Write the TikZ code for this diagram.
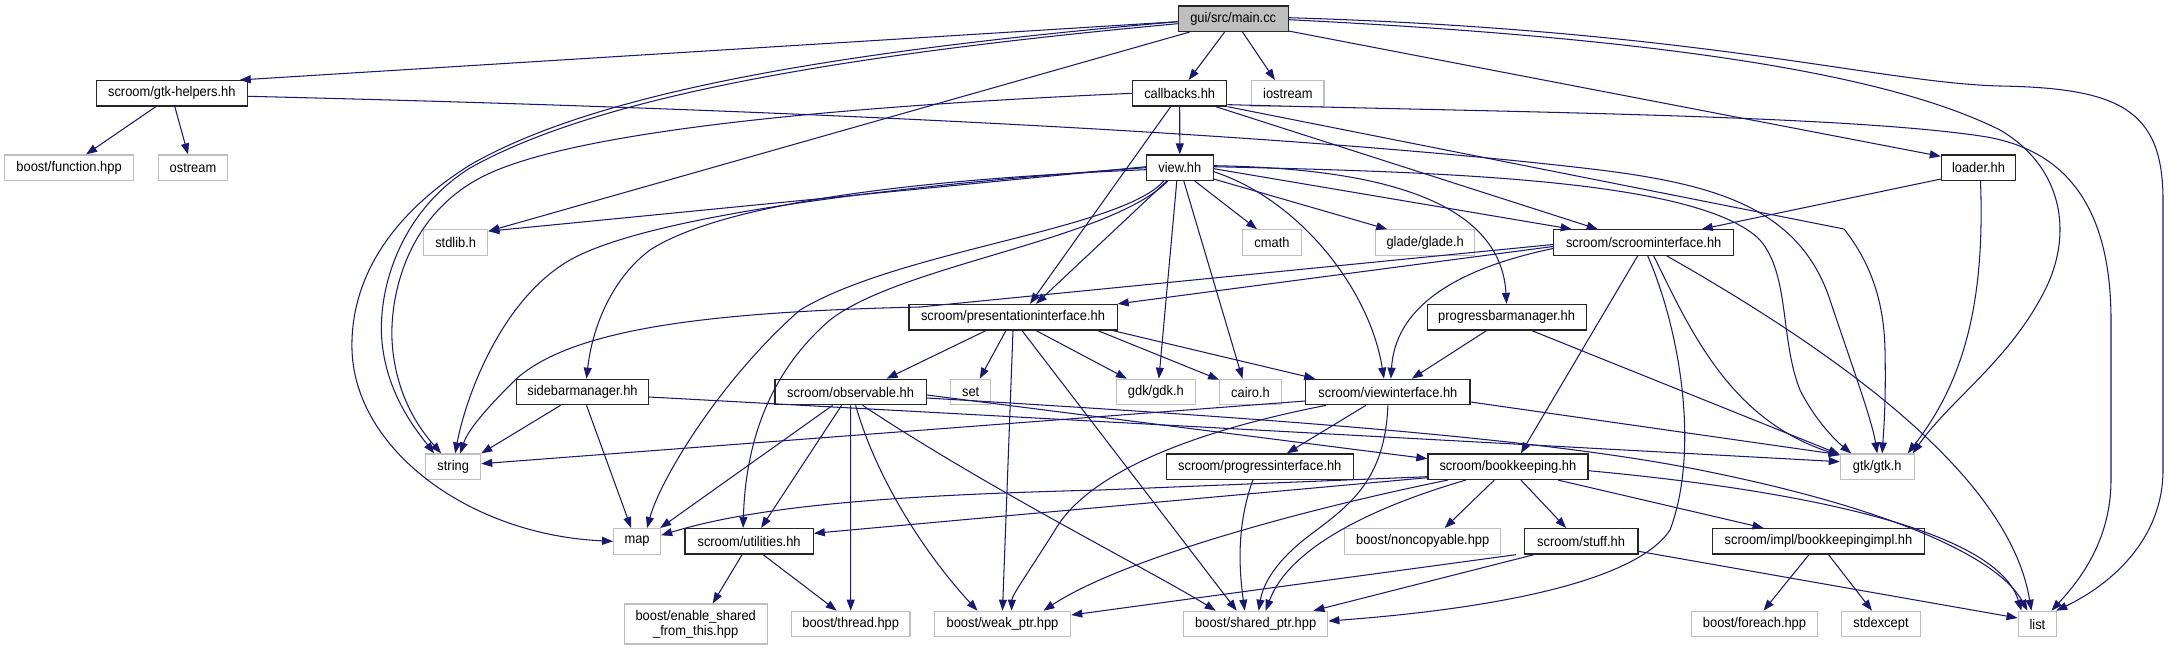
\documentclass[tikz,border=0pt]{standalone}
\usepackage{fontspec}
\setmainfont{Liberation Sans}[FakeStretch=0.92]
\usetikzlibrary{arrows.meta}
\definecolor{edgeblue}{HTML}{191970}
\definecolor{lgray}{HTML}{BFBFBF}
\tikzset{
  nbox/.style={draw, minimum height=25.5pt, inner sep=0pt, font=\fontsize{14}{16}\selectfont, line width=1.2pt},
  intbox/.style={nbox, draw=black!85},
  extbox/.style={nbox, draw=lgray, line width=1.1pt},
  mainbox/.style={nbox, draw=black!85, fill=lgray},
  dep/.style={draw=edgeblue, line width=1.05pt, -{Triangle[length=11pt,width=8pt]}},
}
\begin{document}
\begin{tikzpicture}[x=1pt,y=-1pt]
\useasboundingbox (0,0) rectangle (2169,651);
% ---------- nodes ----------
\node[mainbox, minimum width=110pt]  (main)       at (1233.2,18.7) {gui/src/main.cc};
\node[intbox, minimum width=150.7pt] (gtkhelpers) at (171.8,93.3)  {scroom/gtk-helpers.hh};
\node[intbox, minimum width=94.3pt]  (callbacks)  at (1179.7,93.3) {callbacks.hh};
\node[extbox, minimum width=72.1pt]  (iostream)   at (1287.9,93.3) {iostream};
\node[extbox, minimum width=129.6pt] (bfunction)  at (69.1,167.7)  {boost/function.hpp};
\node[extbox, minimum width=69.7pt]  (ostream)    at (193,167.7)   {ostream};
\node[intbox, minimum width=66.8pt]  (view)       at (1179.8,167.7) {view.hh};
\node[intbox, minimum width=74.3pt]  (loader)     at (1978.5,167.7) {loader.hh};
\node[extbox, minimum width=64.3pt]  (stdlib)     at (455.7,242.5) {stdlib.h};
\node[extbox, minimum width=58.9pt]  (cmath)      at (1272,242.5)  {cmath};
\node[extbox, minimum width=98.9pt]  (glade)      at (1425.2,242.5) {glade/glade.h};
\node[intbox, minimum width=180.2pt] (scroomif)   at (1643.7,242.5) {scroom/scroominterface.hh};
\node[intbox, minimum width=208.2pt] (presif)     at (1013,317.2)  {scroom/presentationinterface.hh};
\node[intbox, minimum width=159pt]   (progbar)    at (1506.6,317.2) {progressbarmanager.hh};
\node[intbox, minimum width=132.2pt] (sidebar)    at (582.5,392)   {sidebarmanager.hh};
\node[intbox, minimum width=151.1pt] (observable) at (850.6,392)   {scroom/observable.hh};
\node[extbox, minimum width=40pt]    (set)        at (970.7,392)   {set};
\node[extbox, minimum width=79pt]    (gdk)        at (1155.9,392)  {gdk/gdk.h};
\node[extbox, minimum width=61.8pt]  (cairo)      at (1250.5,392)  {cairo.h};
\node[intbox, minimum width=164.3pt] (viewif)     at (1387.9,392)  {scroom/viewinterface.hh};
\node[extbox, minimum width=55pt]    (string)     at (453.2,466.7) {string};
\node[intbox, minimum width=186.8pt] (progif)     at (1259.8,466.7) {scroom/progressinterface.hh};
\node[intbox, minimum width=160pt]   (bookkeeping) at (1507.9,466.7) {scroom/bookkeeping.hh};
\node[extbox, minimum width=73.9pt]  (gtk)        at (1877.2,466.7) {gtk/gtk.h};
\node[extbox, minimum width=47.1pt]  (map)        at (637.1,541.3) {map};
\node[intbox, minimum width=128.2pt] (utilities)  at (749.1,541.3) {scroom/utilities.hh};
\node[extbox, minimum width=156.1pt] (noncopyable) at (1422.7,541.3) {boost/noncopyable.hpp};
\node[intbox, minimum width=113.6pt] (stuff)      at (1581.1,541.3) {scroom/stuff.hh};
\node[intbox, minimum width=212.2pt] (bkimpl)     at (1818.5,541.3) {scroom/impl/bookkeepingimpl.hh};
\node[extbox, minimum width=142.8pt, minimum height=40pt, align=center, font=\fontsize{14}{15}\selectfont] (enable) at (695.7,624) {boost/enable\_shared\\\_from\_this.hpp};
\node[extbox, minimum width=118.6pt] (thread)     at (850.7,624)   {boost/thread.hpp};
\node[extbox, minimum width=136.4pt] (weak)       at (1002.5,624)  {boost/weak\_ptr.hpp};
\node[extbox, minimum width=144.3pt] (shared)     at (1255.7,624)  {boost/shared\_ptr.hpp};
\node[extbox, minimum width=126.7pt] (foreach)    at (1754.5,624)  {boost/foreach.hpp};
\node[extbox, minimum width=78.8pt]  (stdexcept)  at (1881,624)    {stdexcept};
\node[extbox, minimum width=38.5pt]  (list)       at (2037.4,624)  {list};
% ---------- edges: main ----------
\draw[dep] ([yshift=-3pt]main.west) -- ([xshift=-8pt]gtkhelpers.north east);
\draw[dep] ([xshift=-8.6pt]main.south) -- ([xshift=9pt]callbacks.north);
\draw[dep] ([xshift=9.3pt]main.south) -- ([xshift=-13pt]iostream.north);
\draw[dep] ([yshift=1pt]main.south east) -- ([yshift=-2pt]loader.north west);
\draw[dep] ([xshift=12pt]main.south west) -- ([yshift=-2pt]stdlib.north east);
\draw[dep] ([yshift=-1pt]main.east) .. controls (1700,40) and (1900,80) .. (2000,130) .. controls (2060,165) and (2075,230) .. (2045,290) .. controls (2010,360) and (1950,400) .. ([xshift=-2pt]gtk.north east);
\draw[dep] ([yshift=1pt]main.east) .. controls (1700,30) and (1880,83) .. (2000,86) .. controls (2120,88) and (2163,110) .. (2163,200) -- (2163,470) .. controls (2163,540) and (2110,585) .. ([xshift=-1pt]list.north east);
\draw[dep] ([yshift=-3pt]main.west) .. controls (850,50) and (600,90) .. (470,165) .. controls (390,215) and (350,280) .. (352,350) .. controls (355,450) and (470,535) .. (map.west);
\draw[dep] ([yshift=-5pt]main.west) .. controls (850,54) and (600,95) .. (470,168) .. controls (395,215) and (375,300) .. (383,350) .. controls (390,400) and (420,435) .. ([xshift=-19pt]string.north);
% ---------- gtk-helpers ----------
\draw[dep] ([xshift=-16pt]gtkhelpers.south) -- ([xshift=17pt]bfunction.north);
\draw[dep] ([xshift=3pt]gtkhelpers.south) -- ([xshift=-5pt]ostream.north);
\draw[dep] ([yshift=-3pt]gtkhelpers.east) .. controls (900,112) and (1350,140) .. (1600,170) .. controls (1720,185) and (1800,210) .. (1830,300) .. controls (1850,360) and (1872,420) .. (gtk.north);
% ---------- callbacks ----------
\draw[dep] (callbacks.south) -- (view.north);
\draw[dep] ([xshift=-9pt]callbacks.south) -- ([xshift=17pt]presif.north);
\draw[dep] ([xshift=36pt]callbacks.south) -- ([xshift=-46pt]scroomif.north);
\draw[dep] (callbacks.west) .. controls (800,108) and (560,135) .. (480,178) .. controls (410,215) and (390,290) .. (392,340) .. controls (395,400) and (425,435) .. ([xshift=-12pt]string.north);
\draw[dep] (callbacks.south east) -- (1844,229) .. controls (1870,262) and (1884,300) .. (1885,350) .. controls (1886,400) and (1884,425) .. ([xshift=5pt]gtk.north);
\draw[dep] ([yshift=2pt]callbacks.south east) .. controls (1500,112) and (1850,115) .. (1987,137) .. controls (2060,150) and (2111,200) .. (2111,320) -- (2111,480) .. controls (2111,540) and (2080,580) .. ([xshift=14pt]list.north);
% ---------- view ----------
\draw[dep] ([yshift=1pt]view.west) -- ([yshift=-2pt]stdlib.north east);
\draw[dep] (view.west) .. controls (900,185) and (650,215) .. (570,260) .. controls (500,300) and (465,400) .. ([xshift=2pt]string.north);
\draw[dep] ([yshift=-2pt]view.west) .. controls (900,180) and (720,205) .. (650,250) .. controls (610,280) and (592,330) .. ([xshift=4pt]sidebar.north);
\draw[dep] ([xshift=-16pt]view.south) .. controls (1120,230) and (900,250) .. (800,310) .. controls (720,380) and (660,480) .. ([xshift=10pt]map.north);
\draw[dep] ([xshift=-12pt]view.south) .. controls (1110,240) and (900,265) .. (830,320) .. controls (760,380) and (745,460) .. ([xshift=-6pt]utilities.north);
\draw[dep] ([xshift=-13pt]view.south) -- ([xshift=23pt]presif.north);
\draw[dep] ([xshift=-3pt]view.south) -- ([xshift=3pt]gdk.north);
\draw[dep] ([xshift=4pt]view.south) -- ([xshift=-8pt]cairo.north);
\draw[dep] ([xshift=15pt]view.south) -- ([xshift=-15pt]cmath.north);
\draw[dep] ([yshift=2pt]view.south east) -- ([xshift=-38pt]glade.north);
\draw[dep] ([yshift=-4pt]view.east) .. controls (1300,200) and (1370,290) .. ([xshift=-4pt]viewif.north);
\draw[dep] ([yshift=2pt]view.east) .. controls (1350,168) and (1500,190) .. (progbar.north);
\draw[dep] ([yshift=-1pt]view.east) -- ([xshift=-72pt]scroomif.north);
\draw[dep] ([yshift=1pt]view.east) .. controls (1450,172) and (1700,180) .. (1760,240) .. controls (1790,275) and (1780,340) .. (1800,390) .. controls (1815,420) and (1835,440) .. ([xshift=-26pt]gtk.north);
% ---------- loader ----------
\draw[dep] ([yshift=2pt]loader.south west) -- ([xshift=58pt]scroomif.north);
\draw[dep] ([xshift=2pt]loader.south) .. controls (1985,300) and (1965,380) .. ([xshift=-7pt]gtk.north east);
% ---------- scroominterface ----------
\draw[dep] ([yshift=-2pt]scroomif.west) -- (920,307) .. controls (700,312) and (570,330) .. (515,380) .. controls (485,410) and (468,430) .. ([xshift=7pt]string.north);
\draw[dep] ([yshift=-4pt]scroomif.west) -- (presif.north east);
\draw[dep] ([yshift=-6pt]scroomif.west) .. controls (1450,270) and (1395,310) .. ([xshift=3pt]viewif.north);
\draw[dep] ([xshift=-6pt]scroomif.south) -- ([xshift=13pt]bookkeeping.north);
\draw[dep] ([xshift=4pt]scroomif.south) .. controls (1680,330) and (1700,450) .. (1670,530) .. controls (1630,590) and (1450,612) .. ([yshift=3pt]shared.east);
\draw[dep] ([xshift=10pt]scroomif.south) .. controls (1690,330) and (1730,420) .. ([yshift=-2pt]gtk.north west);
\draw[dep] ([xshift=23pt]scroomif.south) .. controls (1850,360) and (2010,480) .. ([xshift=-6pt]list.north);
% ---------- presentationinterface ----------
\draw[dep] ([xshift=-27pt]presif.south) -- ([xshift=36pt]observable.north);
\draw[dep] ([xshift=-7pt]presif.south) -- ([xshift=9pt]set.north);
\draw[dep] (presif.south) -- (weak.north);
\draw[dep] ([xshift=9pt]presif.south) -- ([xshift=-19pt]shared.north);
\draw[dep] ([xshift=23pt]presif.south) -- ([xshift=-29pt]gdk.north);
\draw[dep] ([xshift=-20pt]presif.south east) -- ([yshift=-1pt]cairo.north west);
\draw[dep] ([xshift=-5pt]presif.south east) -- ([xshift=10pt]viewif.north west);
% ---------- progressbarmanager ----------
\draw[dep] ([xshift=-20pt]progbar.south) -- ([xshift=24pt]viewif.north);
\draw[dep] ([xshift=25pt]progbar.south) -- ([yshift=-1pt]gtk.north west);
% ---------- sidebarmanager ----------
\draw[dep] ([xshift=-22pt]sidebar.south) -- (string.north east);
\draw[dep] ([xshift=4pt]sidebar.south) -- ([xshift=-6pt]map.north);
\draw[dep] ([yshift=-5pt]sidebar.east) -- ([yshift=5pt]gtk.west);
% ---------- observable ----------
\draw[dep] ([xshift=-18pt]observable.south) -- ([xshift=-1pt]map.north east);
\draw[dep] ([xshift=-9pt]observable.south) -- ([xshift=12pt]utilities.north);
\draw[dep] (observable.south) -- (thread.north);
\draw[dep] ([xshift=5pt]observable.south) .. controls (880,490) and (935,565) .. ([xshift=-25pt]weak.north);
\draw[dep] ([xshift=12pt]observable.south) .. controls (990,490) and (1150,570) .. ([xshift=-40pt]shared.north);
\draw[dep] ([yshift=-3pt]observable.east) -- ([yshift=8pt]bookkeeping.west);
\draw[dep] ([yshift=-6pt]observable.east) .. controls (1300,420) and (1550,440) .. (1700,470) .. controls (1900,510) and (2000,560) .. ([xshift=-10pt]list.north);
% ---------- viewinterface ----------
\draw[dep] ([yshift=-9pt]viewif.west) -- ([yshift=3pt]string.east);
\draw[dep] ([xshift=-22pt]viewif.south) -- ([xshift=27pt]progif.north);
\draw[dep] (viewif.south) .. controls (1385,480) and (1350,505) .. (1310,535) .. controls (1270,565) and (1262,590) .. ([xshift=3pt]shared.north);
\draw[dep] ([xshift=-62pt]viewif.south) .. controls (1200,430) and (1090,470) .. (1055,530) .. controls (1030,570) and (1012,595) .. ([xshift=9pt]weak.north);
\draw[dep] ([yshift=-10pt]viewif.east) -- ([yshift=12pt]gtk.west);
% ---------- progressinterface ----------
\draw[dep] ([xshift=-7pt]progif.south) .. controls (1235,530) and (1240,575) .. ([xshift=-11pt]shared.north);
% ---------- bookkeeping ----------
\draw[dep] ([yshift=-10pt]bookkeeping.west) -- (1100,490) .. controls (900,495) and (760,505) .. ([yshift=6pt]map.east);
\draw[dep] ([yshift=-11pt]bookkeeping.west) -- ([yshift=8pt]utilities.east);
\draw[dep] ([xshift=-13.6pt]bookkeeping.south) -- ([xshift=22pt]noncopyable.north);
\draw[dep] ([xshift=13pt]bookkeeping.south) -- ([xshift=-15pt]stuff.north);
\draw[dep] ([xshift=50pt]bookkeeping.south) -- ([xshift=-55pt]bkimpl.north);
\draw[dep] ([xshift=-60pt]bookkeeping.south) .. controls (1300,510) and (1120,560) .. ([xshift=41pt]weak.north);
\draw[dep] ([xshift=-42pt]bookkeeping.south) .. controls (1380,505) and (1290,545) .. ([xshift=10pt]shared.north);
\draw[dep] ([yshift=-4pt]bookkeeping.east) .. controls (1850,495) and (2000,540) .. ([xshift=-16pt]list.north);
% ---------- stuff ----------
\draw[dep] ([xshift=-65pt]stuff.south) -- ([yshift=9pt]weak.east);
\draw[dep] ([xshift=-47pt]stuff.south) -- ([xshift=-15pt]shared.north east);
\draw[dep] ([yshift=-10pt]stuff.east) -- ([yshift=6pt]list.west);
% ---------- bookkeepingimpl ----------
\draw[dep] ([xshift=-9.5pt]bkimpl.south) -- ([xshift=9pt]foreach.north);
\draw[dep] ([xshift=10pt]bkimpl.south) -- ([xshift=-9pt]stdexcept.north);
% ---------- utilities ----------
\draw[dep] ([xshift=-7pt]utilities.south) -- ([xshift=17pt]enable.north);
\draw[dep] ([xshift=14pt]utilities.south) -- ([xshift=-14pt]thread.north);
\end{tikzpicture}
\end{document}
